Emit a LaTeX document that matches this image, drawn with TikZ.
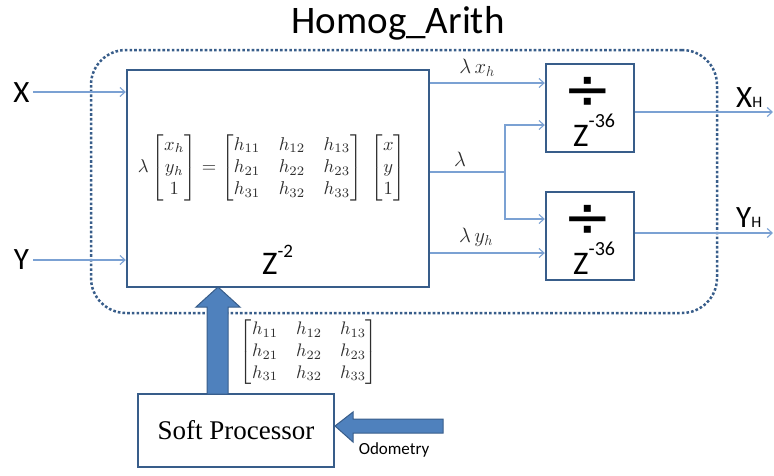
\documentclass[tikz,border=0pt]{standalone}
\usepackage{fontspec}
\usepackage{amsmath}
\usepackage{graphicx}
\setmainfont{Liberation Serif}
\newfontfamily\calfont{Carlito}
\newfontfamily\djfont{DejaVu Sans}
\usetikzlibrary{arrows.meta}
\definecolor{bord}{HTML}{385D8A}
\definecolor{fillb}{HTML}{4F81BD}
\definecolor{thinc}{HTML}{7BA1D3}
\definecolor{mathc}{HTML}{2E2E2E}
\begin{document}
\begin{tikzpicture}[x=1pt,y=-1pt,
  box/.style={draw=bord, line width=2.4pt, fill=white, inner sep=0pt},
  conn/.style={draw=thinc, line width=1.1pt},
  arr/.style={conn, -{Straight Barb[length=5pt,width=9pt]}},
  fat/.style={fill=fillb, draw=bord, line width=1pt, line join=miter},
  lbl/.style={inner sep=0pt, font=\calfont},
  mlbl/.style={inner sep=0pt, text=mathc},
  divsym/.style={inner sep=0pt, anchor=base, font=\djfont\fontsize{58pt}{58pt}\selectfont},
  dotframe/.style={draw=bord, line width=2.5pt, dash pattern=on 2.6pt off 2.1pt, rounded corners=35pt, inner sep=0pt}
]
\useasboundingbox (0,0) rectangle (774,475);

% title
\node[lbl, font=\calfont\fontsize{39pt}{39pt}\selectfont] (title) at (398,23) {Homog\_Arith};

% dotted frame
\node[dotframe, minimum width=626pt, minimum height=263pt] (frame) at (404,181.5) {};

% boxes
\node[box, minimum width=302pt, minimum height=217pt] (main) at (278,178.5) {};
\node[box, minimum width=88pt, minimum height=88pt] (div1) at (590,108) {};
\node[box, minimum width=88pt, minimum height=88pt] (div2) at (590,236) {};
\node[box, minimum width=196pt, minimum height=73pt, font=\fontsize{27pt}{27pt}\selectfont] (sp) at (236,430.5) {Soft Processor};

% equation inside main box
\node[mlbl] (eq) at (272,168) {\resizebox{268pt}{!}{$\lambda\begin{bmatrix}x_h\\ y_h\\ 1\end{bmatrix}=\begin{bmatrix}h_{11}&h_{12}&h_{13}\\ h_{21}&h_{22}&h_{23}\\ h_{31}&h_{32}&h_{33}\end{bmatrix}\;\begin{bmatrix}x\\ y\\ 1\end{bmatrix}$}};

% Z^-2
\node[lbl, anchor=base west] (z2) at (262,274) {\fontsize{33pt}{33pt}\selectfont Z\raisebox{17pt}{\fontsize{19pt}{19pt}\selectfont -2}};

% division boxes content
\node[divsym] (dv1) at (588,109) {\smash{÷}};
\node[lbl, anchor=base west] (z36a) at (573,146) {\fontsize{33pt}{33pt}\selectfont Z\raisebox{19pt}{\fontsize{20pt}{20pt}\selectfont -36}};
\node[divsym] (dv2) at (588,237) {\smash{÷}};
\node[lbl, anchor=base west] (z36b) at (573,274) {\fontsize{33pt}{33pt}\selectfont Z\raisebox{19pt}{\fontsize{20pt}{20pt}\selectfont -36}};

% inputs
\node[lbl, font=\calfont\fontsize{31pt}{31pt}\selectfont] (X) at (21.5,93) {X};
\node[lbl, font=\calfont\fontsize{31pt}{31pt}\selectfont] (Y) at (21.5,260) {Y};
\coordinate (xin) at (33,92);
\coordinate (yin) at (33,260);
\draw[arr] (xin) -- (xin -| main.west);
\draw[arr] (yin) -- (yin -| main.west);

% outputs of main
\coordinate (lxh) at (430,83);
\coordinate (lam) at (430,172);
\coordinate (lyh) at (430,253);
\coordinate (split) at (505,172);
\coordinate (d1lo) at (505,125);
\coordinate (d2hi) at (505,219);
\draw[arr] (main.east |- lxh) -- (div1.west |- lxh);
\draw[conn] (main.east |- lam) -- (split);
\draw[arr] (split) -- (d1lo) -- (div1.west |- d1lo);
\draw[arr] (split) -- (d2hi) -- (div2.west |- d2hi);
\draw[arr] (main.east |- lyh) -- (div2.west |- lyh);

\node[mlbl, font=\fontsize{22pt}{22pt}\selectfont] (llxh) at (477,68) {$\lambda\,x_h$};
\node[mlbl, font=\fontsize{22pt}{22pt}\selectfont] (llam) at (460,159) {$\lambda$};
\node[mlbl, font=\fontsize{22pt}{22pt}\selectfont] (llyh) at (476,237) {$\lambda\,y_h$};

% outputs
\coordinate (xout) at (773,112);
\coordinate (yout) at (773,233);
\draw[arr] (div1.east |- xout) -- (xout);
\draw[arr] (div2.east |- yout) -- (yout);
\node[lbl, anchor=base west] (XH) at (736,107) {\fontsize{31pt}{31pt}\selectfont X\fontsize{16pt}{16pt}\selectfont H};
\node[lbl, anchor=base west] (YH) at (736,227) {\fontsize{31pt}{31pt}\selectfont Y\fontsize{16pt}{16pt}\selectfont H};

% big arrow from soft processor to main
\draw[fat] (207,394) -- (207,307) -- (196,307) -- (218,287) -- (240,307) -- (228,307) -- (228,394) -- cycle;
\node[mlbl] (hmat) at (309,352) {\resizebox{138pt}{!}{$\begin{bmatrix}h_{11}&h_{12}&h_{13}\\ h_{21}&h_{22}&h_{23}\\ h_{31}&h_{32}&h_{33}\end{bmatrix}$}};

% odometry arrow
\draw[fat] (443,419) -- (353,419) -- (353,412) -- (335,426) -- (353,442) -- (353,433) -- (443,433) -- cycle;
\node[lbl, anchor=base, font=\calfont\fontsize{17pt}{17pt}\selectfont] (odo) at (394,454) {Odometry};
\end{tikzpicture}
\end{document}
